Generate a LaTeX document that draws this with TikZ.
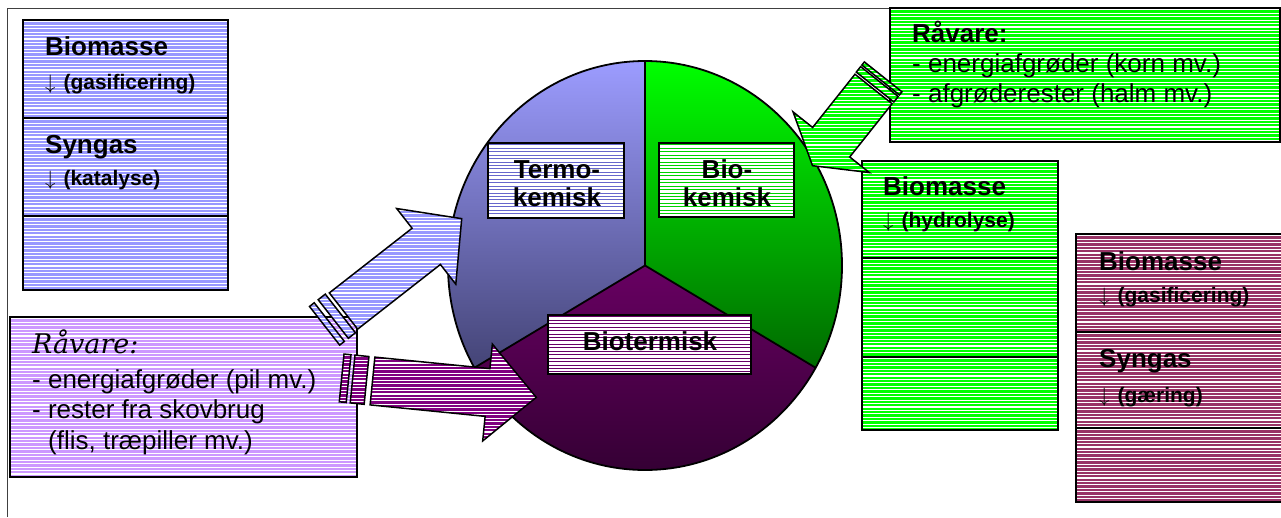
\documentclass[tikz,border=0pt]{standalone}
\usepackage{fontspec}
\setmainfont{Liberation Sans}
\newfontfamily\italicserif{DejaVu Serif}
\usetikzlibrary{calc}

% panel fills
\definecolor{periwinkle}{RGB}{153,153,255}
\definecolor{lilac}{RGB}{204,153,255}
\definecolor{leaf}{RGB}{0,255,0}
\definecolor{wine}{RGB}{153,51,102}
\definecolor{plumarrow}{RGB}{128,0,128}
% stripe colours of the sector labels
\definecolor{termoline}{RGB}{102,102,204}
\definecolor{bioline}{RGB}{0,210,0}
\definecolor{biotline}{RGB}{102,0,102}
% sector gradients
\definecolor{termotop}{RGB}{156,156,255}
\definecolor{termobot}{RGB}{68,68,118}
\definecolor{biotop}{RGB}{0,255,0}
\definecolor{biobot}{RGB}{0,105,0}
\definecolor{purtop}{RGB}{104,0,98}
\definecolor{purbot}{RGB}{46,0,46}

\newcommand\fbig{\fontsize{26}{28}\selectfont\bfseries}
\newcommand\fsmall{\fontsize{21}{24}\selectfont\bfseries}
\newcommand\fplain{\fontsize{26}{30}\selectfont}
% thin process arrow in front of a step name
\newcommand\steparrow{{\fontsize{22}{24}\selectfont$\downarrow$}\hspace{8pt}}

% four corners of a tail bar of a striped block arrow (local frame)
\newcommand\barcorners[4]{%
  \coordinate (#1a) at (#2,-#4); \coordinate (#1b) at (#3,-#4);
  \coordinate (#1c) at (#3,#4);  \coordinate (#1d) at (#2,#4);}

\tikzset{
  stripes/.style 2 args={path picture={
      \foreach \k in {0,...,80}
        \draw[#1, line width=#2]
          ([yshift={-1.7pt-3.45pt*\k}]path picture bounding box.north west) -- ++(800pt,0pt);}},
  panel/.style={draw=black, line width=1.8pt, fill=#1, stripes={white}{1.1pt}, inner sep=0pt},
  tag/.style={draw=black, line width=1.8pt, fill=white, stripes={#1}{0.9pt}, inner sep=0pt},
  blockarrow/.style={draw=black, line width=1.5pt, fill=#1, stripes={white}{1.1pt}, line join=miter},
  txt/.style={inner sep=0pt, anchor=base west},
  ctxt/.style={inner sep=0pt, anchor=base},
  pieline/.style={line width=1.8pt, line join=round},
}

\begin{document}
\begin{tikzpicture}[x=1pt, y=-1pt]
\useasboundingbox (0,0) rectangle (1281,517);
\clip (0,0) rectangle (1281,517);

% frame
\draw[line width=1pt, black!75] (7,517) -- (7,8) -- (1281,8);

% thermochemical route
\node[panel=periwinkle, minimum width=205pt, minimum height=98pt] (tl1) at (125.5,69) {};
\node[panel=periwinkle, minimum width=205pt, minimum height=98pt] (tl2) at (125.5,167) {};
\node[panel=periwinkle, minimum width=205pt, minimum height=74pt] (tl3) at (125.5,253) {};
\node[txt] (tlA) at (45,55)  {\fbig Biomasse};
\node[txt] (tlB) at (45,89)  {\fsmall\steparrow(gasificering)};
\node[txt] (tlC) at (45,153) {\fbig Syngas};
\node[txt] (tlD) at (45,185) {\fsmall\steparrow(katalyse)};

% raw material, wood
\node[panel=lilac, minimum width=347pt, minimum height=160pt] (raw1) at (183.5,397) {};
\node[txt] (raw1h) at (32,353) {\fontsize{27}{30}\selectfont\italicserif\itshape Råvare:};
\node[txt] (raw1a) at (32,388) {\fplain - energiafgrøder (pil mv.)};
\node[txt] (raw1b) at (32,418) {\fplain - rester fra skovbrug};
\node[txt] (raw1c) at (48,449) {\fplain (flis, træpiller mv.)};

% raw material, crops
\node[panel=leaf, minimum width=390pt, minimum height=134pt] (raw2) at (1085,75) {};
\node[txt] (raw2h) at (912,42)  {\fbig Råvare:};
\node[txt] (raw2a) at (912,72)  {\fplain - energiafgrøder (korn mv.)};
\node[txt] (raw2b) at (912,102) {\fplain - afgrøderester (halm mv.)};

% biochemical route
\node[panel=leaf, minimum width=196pt, minimum height=97pt] (gr1) at (960,209.5) {};
\node[panel=leaf, minimum width=196pt, minimum height=99pt] (gr2) at (960,307.5) {};
\node[panel=leaf, minimum width=196pt, minimum height=73pt] (gr3) at (960,393.5) {};
\node[txt] (grA) at (883,195) {\fbig Biomasse};
\node[txt] (grB) at (883,227) {\fsmall\steparrow(hydrolyse)};

% biothermal route
\node[panel=wine, minimum width=214pt, minimum height=98pt] (mg1) at (1183,283) {};
\node[panel=wine, minimum width=214pt, minimum height=96pt] (mg2) at (1183,380) {};
\node[panel=wine, minimum width=214pt, minimum height=74pt] (mg3) at (1183,465) {};
\node[txt] (mgA) at (1099,270) {\fbig Biomasse};
\node[txt] (mgB) at (1099,302) {\fsmall\steparrow(gasificering)};
\node[txt] (mgC) at (1099,367) {\fbig Syngas};
\node[txt] (mgD) at (1099,402) {\fsmall\steparrow(gæring)};

% pie
\coordinate (pc) at (645,265.5);
\shade[top color=termotop, bottom color=termobot]
  (pc) -- ++(150:197 and 204.5) arc[start angle=150, end angle=270, x radius=197, y radius=204.5] -- cycle;
\shade[top color=biotop, bottom color=biobot]
  (pc) -- ++(270:197 and 204.5) arc[start angle=270, end angle=390, x radius=197, y radius=204.5] -- cycle;
\shade[top color=purtop, bottom color=purbot]
  (pc) -- ++(30:197 and 204.5) arc[start angle=30, end angle=150, x radius=197, y radius=204.5] -- cycle;
\path (pc) ++(270:197 and 204.5) coordinate (ptop);
\path (pc) ++(150:197 and 204.5) coordinate (pleft);
\path (pc) ++(30:197 and 204.5) coordinate (pright);
\draw[pieline] (pc) ellipse[x radius=197, y radius=204.5];
\draw[pieline] (ptop) -- (pc) -- (pleft) (pc) -- (pright);

% sector labels
\node[tag=termoline, minimum width=136pt, minimum height=75pt] (termo) at (556,180.5) {};
\node[ctxt] (termoA) at (557,178) {\fbig Termo-};
\node[ctxt] (termoB) at (557,206) {\fbig kemisk};
\node[tag=bioline, minimum width=135pt, minimum height=74pt] (bio) at (726.5,180) {};
\node[ctxt] (bioA) at (727,178) {\fbig Bio-};
\node[ctxt] (bioB) at (727,206) {\fbig kemisk};
\node[tag=biotline, minimum width=203pt, minimum height=59pt] (biot) at (649.5,344.5) {};
\node[ctxt] (biotA) at (650,350) {\fbig Biotermisk};

% striped block arrows: outline points in a local frame
\begin{scope}[shift={(343.5,311)}, rotate=38]
  \coordinate (bl1) at (0,-23);   \coordinate (bl2) at (105,-23); \coordinate (bl3) at (105,-48);
  \coordinate (bl4) at (150,0);   \coordinate (bl5) at (105,48);  \coordinate (bl6) at (105,23);
  \coordinate (bl7) at (0,23);
  \barcorners{blA}{-4}{-13}{24.5}
  \barcorners{blB}{-18}{-24}{24.5}
\end{scope}
\begin{scope}[shift={(873.5,89)}, rotate=231.5]
  \coordinate (gn1) at (0,-23.7);  \coordinate (gn2) at (68,-23.7); \coordinate (gn3) at (68,-48.7);
  \coordinate (gn4) at (98,0);     \coordinate (gn5) at (68,48.7);  \coordinate (gn6) at (68,23.7);
  \coordinate (gn7) at (0,23.7);
  \barcorners{gnA}{-2.5}{-9.5}{24}
  \barcorners{gnB}{-11.5}{-15.5}{24}
\end{scope}
\begin{scope}[shift={(372.5,381)}, rotate=-5.7]
  \coordinate (pu1) at (0,-24);     \coordinate (pu2) at (115.6,-24); \coordinate (pu3) at (115.6,-48.7);
  \coordinate (pu4) at (164.6,0);   \coordinate (pu5) at (115.6,48.7); \coordinate (pu6) at (115.6,24);
  \coordinate (pu7) at (0,24);
  \barcorners{puA}{-6}{-20}{24}
  \barcorners{puB}{-24}{-31}{24}
\end{scope}

\path[blockarrow=periwinkle] (bl1) -- (bl2) -- (bl3) -- (bl4) -- (bl5) -- (bl6) -- (bl7) -- cycle;
\path[blockarrow=periwinkle] (blAa) -- (blAb) -- (blAc) -- (blAd) -- cycle;
\path[blockarrow=periwinkle] (blBa) -- (blBb) -- (blBc) -- (blBd) -- cycle;

\path[blockarrow=leaf] (gn1) -- (gn2) -- (gn3) -- (gn4) -- (gn5) -- (gn6) -- (gn7) -- cycle;
\path[blockarrow=leaf] (gnAa) -- (gnAb) -- (gnAc) -- (gnAd) -- cycle;
\path[blockarrow=leaf] (gnBa) -- (gnBb) -- (gnBc) -- (gnBd) -- cycle;

\path[blockarrow=plumarrow] (pu1) -- (pu2) -- (pu3) -- (pu4) -- (pu5) -- (pu6) -- (pu7) -- cycle;
\path[blockarrow=plumarrow] (puAa) -- (puAb) -- (puAc) -- (puAd) -- cycle;
\path[blockarrow=plumarrow] (puBa) -- (puBb) -- (puBc) -- (puBd) -- cycle;
\end{tikzpicture}
\end{document}
